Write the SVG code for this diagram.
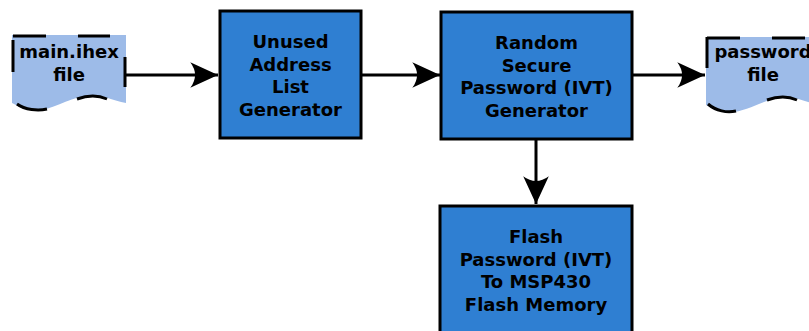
<svg xmlns="http://www.w3.org/2000/svg" width="809" height="331" viewBox="0 0 809 331">
  <style>
    .box { fill: #2f7fd2; stroke: #000; stroke-width: 3; }
    .doc { fill: #9dbbe8; stroke: none; }
    .docedge { fill: none; stroke: #000; stroke-width: 3; stroke-linecap: butt; }
    .lbl { font-family: "DejaVu Sans", Verdana, sans-serif; font-weight: bold; font-size: 18px; fill: #000; text-anchor: middle; }
    .wire { fill: none; stroke: #000; stroke-width: 3; }
  </style>
  <defs>
    <marker id="arrow" markerUnits="userSpaceOnUse" markerWidth="32" markerHeight="30" viewBox="-28 -13 30 26" refX="0" refY="0" orient="auto">
      <path d="M0,0 L-26,-12 Q-17,0 -26,12 Z" fill="#000"/>
    </marker>
  </defs>

  <rect width="809" height="331" fill="#fff"/>

  <!-- input document -->
  <g id="main-ihex">
    <path class="doc" d="M12,35 H126 V103 C110,100 100,93 85,96 C65,99 50,112 32,110 C22,109 16,105 12,103 Z"/>
    <path class="docedge" d="M13,36 H46 M78,36 H110 M13,40 V72 M125,57 V87 M17,104 C25,110 38,111 47,109 M77,99 C88,95 98,95 107,99"/>
    <text class="lbl" x="69" y="58">main.ihex</text>
    <text class="lbl" x="69" y="81">file</text>
  </g>

  <!-- output document -->
  <g id="password-file">
    <path class="doc" d="M706,37 H820 V105 C804,102 794,95 779,98 C759,101 744,114 726,112 C716,111 710,107 706,105 Z"/>
    <path class="docedge" d="M707,38 H740 M772,38 H805 M707,37 V68 M708,104 C716,111 727,113 736,111 M767,100 C778,96 788,96 797,100"/>
    <text class="lbl" x="763" y="58">password</text>
    <text class="lbl" x="763" y="81">file</text>
  </g>

  <g id="unused-address">
    <rect class="box" x="220" y="11" width="141" height="127"/>
    <text class="lbl" x="290.5" y="48">Unused</text>
    <text class="lbl" x="290.5" y="71">Address</text>
    <text class="lbl" x="290.5" y="93">List</text>
    <text class="lbl" x="290.5" y="116">Generator</text>
  </g>

  <g id="random-password">
    <rect class="box" x="441" y="12" width="191" height="127"/>
    <text class="lbl" x="536.5" y="49">Random</text>
    <text class="lbl" x="536.5" y="72">Secure</text>
    <text class="lbl" x="536.5" y="94">Password (IVT)</text>
    <text class="lbl" x="536.5" y="117">Generator</text>
  </g>

  <g id="flash-password">
    <rect class="box" x="440" y="206" width="192" height="140"/>
    <text class="lbl" x="536" y="243">Flash</text>
    <text class="lbl" x="536" y="266">Password (IVT)</text>
    <text class="lbl" x="536" y="288">To MSP430</text>
    <text class="lbl" x="536" y="311">Flash Memory</text>
  </g>

  <g id="connectors">
    <path class="wire" d="M126,75 H218" marker-end="url(#arrow)"/>
    <path class="wire" d="M361,75 H440" marker-end="url(#arrow)"/>
    <path class="wire" d="M632,75 H705" marker-end="url(#arrow)"/>
    <path class="wire" d="M536,139 V204" marker-end="url(#arrow)"/>
  </g>
</svg>
